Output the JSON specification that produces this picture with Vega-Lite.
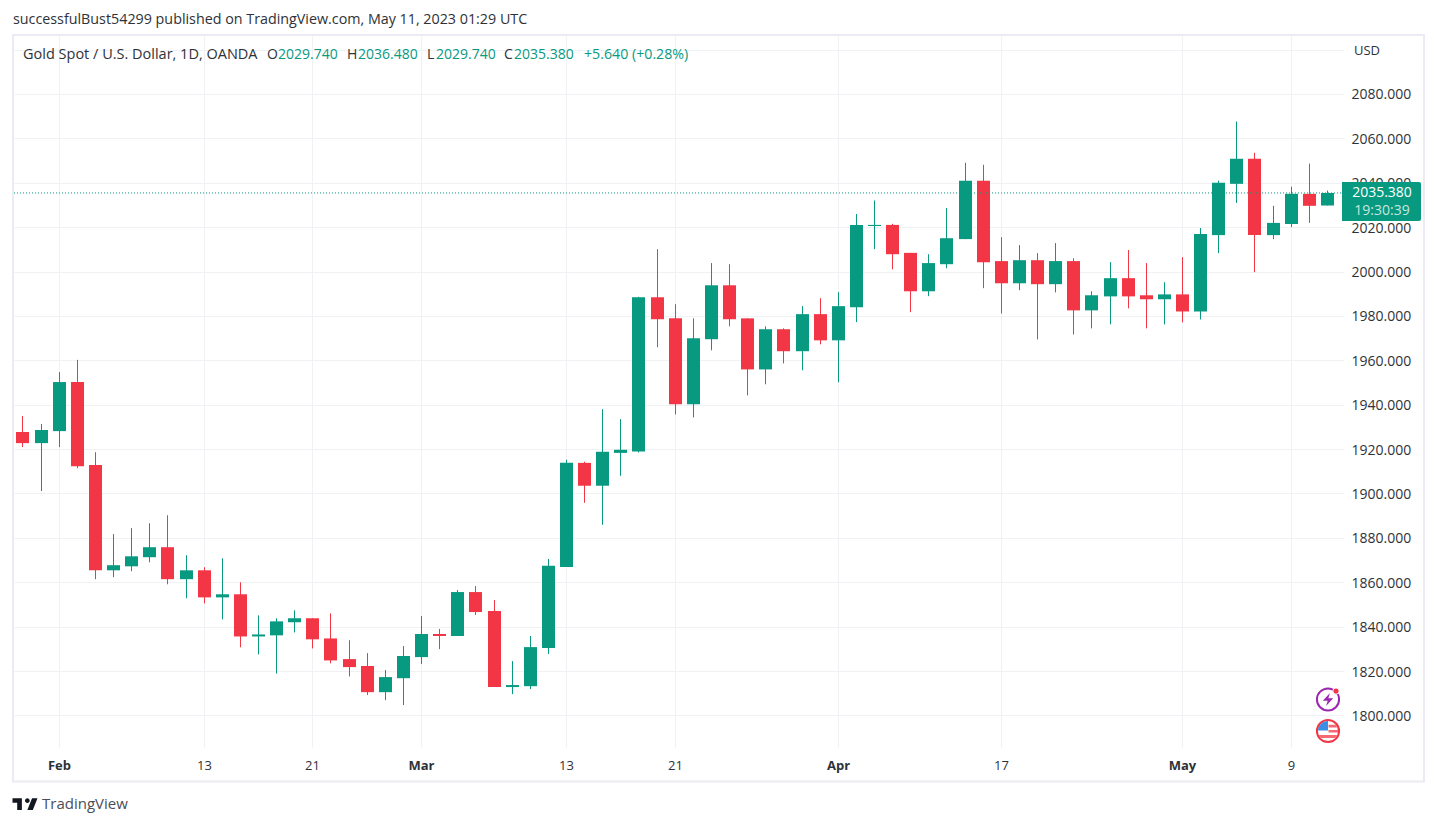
{
  "$schema": "https://vega.github.io/schema/vega-lite/v6.json",
  "description": "Gold Spot / U.S. Dollar daily candlesticks, 30 Jan to 11 May 2023",
  "width": 1330,
  "height": 711,
  "autosize": "none",
  "padding": {"left": 14, "top": 36, "right": 93, "bottom": 79},
  "background": "#ffffff",
  "view": {"stroke": null},
  "config": {"font": "Open Sans", "text": {"font": "Open Sans"}},
  "datasets": {
    "one": [{"n": 1}],
    "ohlc": [
      {"i": 0, "date": "2023-01-30", "open": 1927.7, "high": 1934.9, "low": 1920.9, "close": 1922.7},
      {"i": 1, "date": "2023-01-31", "open": 1922.7, "high": 1931.3, "low": 1901.1, "close": 1928.6},
      {"i": 2, "date": "2023-02-01", "open": 1928.1, "high": 1954.7, "low": 1920.9, "close": 1950.2},
      {"i": 3, "date": "2023-02-02", "open": 1950.2, "high": 1960.2, "low": 1911.4, "close": 1912.3},
      {"i": 4, "date": "2023-02-03", "open": 1912.8, "high": 1918.6, "low": 1861.4, "close": 1865.4},
      {"i": 5, "date": "2023-02-06", "open": 1865.4, "high": 1881.7, "low": 1862.3, "close": 1867.7},
      {"i": 6, "date": "2023-02-07", "open": 1867.2, "high": 1884.4, "low": 1865.0, "close": 1871.7},
      {"i": 7, "date": "2023-02-08", "open": 1871.3, "high": 1886.6, "low": 1869.0, "close": 1875.8},
      {"i": 8, "date": "2023-02-09", "open": 1875.8, "high": 1890.2, "low": 1859.1, "close": 1861.4},
      {"i": 9, "date": "2023-02-10", "open": 1861.4, "high": 1872.2, "low": 1852.8, "close": 1865.4},
      {"i": 10, "date": "2023-02-13", "open": 1865.4, "high": 1866.8, "low": 1850.5, "close": 1853.2},
      {"i": 11, "date": "2023-02-14", "open": 1853.2, "high": 1870.8, "low": 1843.3, "close": 1854.6},
      {"i": 12, "date": "2023-02-15", "open": 1854.6, "high": 1860.0, "low": 1830.7, "close": 1835.6},
      {"i": 13, "date": "2023-02-16", "open": 1835.6, "high": 1845.1, "low": 1827.5, "close": 1836.5},
      {"i": 14, "date": "2023-02-17", "open": 1836.1, "high": 1843.8, "low": 1818.9, "close": 1842.4},
      {"i": 15, "date": "2023-02-20", "open": 1842.0, "high": 1847.4, "low": 1837.4, "close": 1843.8},
      {"i": 16, "date": "2023-02-21", "open": 1843.8, "high": 1843.8, "low": 1830.2, "close": 1834.3},
      {"i": 17, "date": "2023-02-22", "open": 1834.7, "high": 1846.0, "low": 1823.5, "close": 1824.8},
      {"i": 18, "date": "2023-02-23", "open": 1825.4, "high": 1833.9, "low": 1817.6, "close": 1821.8},
      {"i": 19, "date": "2023-02-24", "open": 1822.3, "high": 1828.1, "low": 1809.2, "close": 1810.5},
      {"i": 20, "date": "2023-02-27", "open": 1810.5, "high": 1820.5, "low": 1806.9, "close": 1817.3},
      {"i": 21, "date": "2023-02-28", "open": 1816.8, "high": 1831.3, "low": 1804.7, "close": 1826.8},
      {"i": 22, "date": "2023-03-01", "open": 1826.3, "high": 1844.8, "low": 1823.2, "close": 1836.7},
      {"i": 23, "date": "2023-03-02", "open": 1836.7, "high": 1839.0, "low": 1829.9, "close": 1835.8},
      {"i": 24, "date": "2023-03-03", "open": 1835.8, "high": 1856.5, "low": 1835.8, "close": 1855.6},
      {"i": 25, "date": "2023-03-06", "open": 1855.6, "high": 1858.3, "low": 1845.3, "close": 1846.6},
      {"i": 26, "date": "2023-03-07", "open": 1847.1, "high": 1852.0, "low": 1812.8, "close": 1812.8},
      {"i": 27, "date": "2023-03-08", "open": 1812.8, "high": 1824.5, "low": 1809.6, "close": 1813.7},
      {"i": 28, "date": "2023-03-09", "open": 1813.2, "high": 1835.8, "low": 1811.9, "close": 1830.8},
      {"i": 29, "date": "2023-03-10", "open": 1830.4, "high": 1870.5, "low": 1827.7, "close": 1867.4},
      {"i": 30, "date": "2023-03-13", "open": 1866.9, "high": 1915.2, "low": 1866.9, "close": 1913.8},
      {"i": 31, "date": "2023-03-14", "open": 1913.8, "high": 1914.3, "low": 1895.8, "close": 1903.5},
      {"i": 32, "date": "2023-03-15", "open": 1903.5, "high": 1938.0, "low": 1885.9, "close": 1918.8},
      {"i": 33, "date": "2023-03-16", "open": 1918.3, "high": 1933.5, "low": 1908.0, "close": 1919.7},
      {"i": 34, "date": "2023-03-17", "open": 1918.9, "high": 1988.6, "low": 1918.5, "close": 1988.4},
      {"i": 35, "date": "2023-03-20", "open": 1988.4, "high": 2010.1, "low": 1965.9, "close": 1978.5},
      {"i": 36, "date": "2023-03-21", "open": 1978.9, "high": 1985.3, "low": 1935.6, "close": 1940.2},
      {"i": 37, "date": "2023-03-22", "open": 1940.2, "high": 1978.9, "low": 1934.3, "close": 1969.9},
      {"i": 38, "date": "2023-03-23", "open": 1969.5, "high": 2003.8, "low": 1964.5, "close": 1993.8},
      {"i": 39, "date": "2023-03-24", "open": 1993.8, "high": 2003.3, "low": 1975.3, "close": 1978.5},
      {"i": 40, "date": "2023-03-27", "open": 1978.9, "high": 1978.9, "low": 1944.2, "close": 1955.9},
      {"i": 41, "date": "2023-03-28", "open": 1955.9, "high": 1975.3, "low": 1949.2, "close": 1974.0},
      {"i": 42, "date": "2023-03-29", "open": 1974.0, "high": 1974.4, "low": 1958.6, "close": 1964.1},
      {"i": 43, "date": "2023-03-30", "open": 1964.1, "high": 1984.4, "low": 1955.5, "close": 1980.8},
      {"i": 44, "date": "2023-03-31", "open": 1980.8, "high": 1988.0, "low": 1967.2, "close": 1969.0},
      {"i": 45, "date": "2023-04-03", "open": 1969.0, "high": 1990.7, "low": 1950.1, "close": 1984.4},
      {"i": 46, "date": "2023-04-04", "open": 1983.9, "high": 2025.9, "low": 1977.2, "close": 2021.0},
      {"i": 47, "date": "2023-04-05", "open": 2020.5, "high": 2032.0, "low": 2010.1, "close": 2021.0},
      {"i": 48, "date": "2023-04-06", "open": 2021.0, "high": 2021.5, "low": 2001.0, "close": 2007.8},
      {"i": 49, "date": "2023-04-10", "open": 2008.4, "high": 2008.4, "low": 1981.7, "close": 1991.1},
      {"i": 50, "date": "2023-04-11", "open": 1991.1, "high": 2007.8, "low": 1988.9, "close": 2003.8},
      {"i": 51, "date": "2023-04-12", "open": 2003.3, "high": 2028.6, "low": 2001.5, "close": 2015.0},
      {"i": 52, "date": "2023-04-13", "open": 2014.6, "high": 2049.0, "low": 2014.6, "close": 2040.9},
      {"i": 53, "date": "2023-04-14", "open": 2040.9, "high": 2048.1, "low": 1992.5, "close": 2004.2},
      {"i": 54, "date": "2023-04-17", "open": 2004.7, "high": 2015.5, "low": 1981.1, "close": 1994.7},
      {"i": 55, "date": "2023-04-18", "open": 1994.7, "high": 2011.9, "low": 1991.6, "close": 2005.1},
      {"i": 56, "date": "2023-04-19", "open": 2005.1, "high": 2008.3, "low": 1969.4, "close": 1994.3},
      {"i": 57, "date": "2023-04-20", "open": 1994.3, "high": 2012.8, "low": 1990.6, "close": 2004.7},
      {"i": 58, "date": "2023-04-21", "open": 2004.7, "high": 2006.0, "low": 1971.6, "close": 1982.5},
      {"i": 59, "date": "2023-04-24", "open": 1982.5, "high": 1991.1, "low": 1974.4, "close": 1989.3},
      {"i": 60, "date": "2023-04-25", "open": 1988.8, "high": 2004.2, "low": 1976.2, "close": 1997.0},
      {"i": 61, "date": "2023-04-26", "open": 1997.0, "high": 2009.7, "low": 1983.4, "close": 1988.8},
      {"i": 62, "date": "2023-04-27", "open": 1989.3, "high": 2003.8, "low": 1974.4, "close": 1987.5},
      {"i": 63, "date": "2023-04-28", "open": 1987.5, "high": 1995.2, "low": 1976.2, "close": 1989.7},
      {"i": 64, "date": "2023-05-01", "open": 1989.7, "high": 2006.5, "low": 1977.1, "close": 1982.0},
      {"i": 65, "date": "2023-05-02", "open": 1982.0, "high": 2019.6, "low": 1978.4, "close": 2016.9},
      {"i": 66, "date": "2023-05-03", "open": 2016.4, "high": 2040.9, "low": 2008.3, "close": 2040.0},
      {"i": 67, "date": "2023-05-04", "open": 2039.5, "high": 2067.6, "low": 2030.9, "close": 2050.8},
      {"i": 68, "date": "2023-05-05", "open": 2050.8, "high": 2053.5, "low": 1999.7, "close": 2016.4},
      {"i": 69, "date": "2023-05-08", "open": 2016.4, "high": 2029.6, "low": 2014.6, "close": 2021.9},
      {"i": 70, "date": "2023-05-09", "open": 2021.4, "high": 2038.2, "low": 2020.0, "close": 2035.0},
      {"i": 71, "date": "2023-05-10", "open": 2035.0, "high": 2048.6, "low": 2021.9, "close": 2029.6},
      {"i": 72, "date": "2023-05-11", "open": 2029.74, "high": 2036.48, "low": 2029.74, "close": 2035.38}
    ]
  },
  "layer": [
    {
      "data": {"name": "ohlc"},
      "mark": {"type": "rule", "strokeWidth": 1, "xOffset": 0.5},
      "encoding": {
        "x": {
          "field": "i",
          "type": "quantitative",
          "scale": {"domain": [-0.469, 72.94], "nice": false, "zero": false, "round": true, "padding": 0},
          "axis": {
            "title": null,
            "values": [2, 10, 16, 22, 30, 36, 45, 54, 64, 70],
            "labelExpr": "['Feb','13','21','Mar','13','21','Apr','17','May','9'][indexof([2,10,16,22,30,36,45,54,64,70],datum.value)]",
            "labelFontWeight": {"condition": {"test": "indexof([2,22,45,64],datum.value) >= 0", "value": "bold"}, "value": "normal"},
            "labelColor": "#2e3238",
            "labelFontSize": 13,
            "labelPadding": 12,
            "labelFlush": false,
            "labelOverlap": false,
            "domain": false,
            "ticks": false,
            "grid": true,
            "gridColor": "#f0f1f5",
            "gridWidth": 1
          }
        },
        "y": {
          "field": "low",
          "type": "quantitative",
          "scale": {"domain": [1785.8, 2106.1], "nice": false, "zero": false},
          "axis": {
            "title": null,
            "orient": "right",
            "values": [1800, 1820, 1840, 1860, 1880, 1900, 1920, 1940, 1960, 1980, 2000, 2020, 2040, 2060, 2080, 2100],
            "labelExpr": "datum.value == 2100 ? '' : format(datum.value, '.3f')",
            "labelColor": "#2e3238",
            "labelFontSize": 14,
            "labelPadding": 7,
            "labelOffset": 1,
            "labelOverlap": false,
            "domain": false,
            "ticks": false,
            "grid": true,
            "gridColor": "#f0f1f5",
            "gridWidth": 1
          }
        },
        "y2": {"field": "high"},
        "color": {"condition": {"test": "datum.close >= datum.open", "value": "#089981"}, "value": "#F23645"}
      }
    },
    {
      "data": {"name": "ohlc"},
      "mark": {"type": "bar", "orient": "vertical", "size": 13, "xOffset": 0.5},
      "encoding": {
        "x": {"field": "i", "type": "quantitative"},
        "y": {"field": "open", "type": "quantitative"},
        "y2": {"field": "close"},
        "color": {"condition": {"test": "datum.close >= datum.open", "value": "#089981"}, "value": "#F23645"}
      }
    },
    {
      "data": {"name": "one"},
      "mark": {"type": "rule", "stroke": "#089981", "strokeWidth": 1, "strokeDash": [1, 2]},
      "encoding": {"x": {"datum": -0.469}, "x2": {"datum": 72.94}, "y": {"datum": 2035.38}}
    },
    {
      "data": {"name": "one"},
      "mark": {"type": "rect", "fill": null, "stroke": "#ebecf3", "strokeWidth": 2},
      "encoding": {"x": {"datum": -0.524}, "x2": {"datum": 77.35}, "y": {"datum": 2106.5}, "y2": {"datum": 1770.3}}
    },
    {
      "data": {"name": "one"},
      "mark": {"type": "rect", "fill": "#089981", "cornerRadiusTopRight": 2, "cornerRadiusBottomRight": 2},
      "encoding": {"x": {"datum": 72.83}, "x2": {"datum": 77.19}, "y": {"datum": 2040.3}, "y2": {"datum": 2022.8}}
    },
    {
      "data": {"name": "one"},
      "mark": {"type": "text", "text": "2035.380", "fill": "#ffffff", "fontSize": 14},
      "encoding": {"x": {"datum": 75.06}, "y": {"datum": 2035.2}}
    },
    {
      "data": {"name": "one"},
      "mark": {"type": "text", "text": "19:30:39", "fill": "#c4e6de", "fontSize": 14},
      "encoding": {"x": {"datum": 75.06}, "y": {"datum": 2027.1}}
    },
    {
      "data": {"name": "one"},
      "mark": {"type": "text", "text": "USD", "align": "left", "fill": "#2e3238", "fontSize": 13},
      "encoding": {"x": {"datum": 73.49}, "y": {"datum": 2099.5}}
    },
    {
      "data": {"name": "one"},
      "mark": {"type": "text", "text": "successfulBust54299 published on TradingView.com, May 11, 2023 01:29 UTC", "align": "left", "fill": "#2e3238", "fontSize": 14.3},
      "encoding": {"x": {"datum": -0.524}, "y": {"datum": 2113.4}}
    },
    {
      "data": {"name": "one"},
      "mark": {"type": "text", "text": "Gold Spot / U.S. Dollar, 1D, OANDA", "align": "left", "fill": "#2e3238", "fontSize": 14.5},
      "encoding": {"x": {"datum": 0.028}, "y": {"datum": 2097.6}}
    },
    {
      "data": {"name": "one"},
      "mark": {"type": "text", "text": "O", "align": "left", "fill": "#2e3238", "fontSize": 14},
      "encoding": {"x": {"datum": 13.52}, "y": {"datum": 2097.6}}
    },
    {
      "data": {"name": "one"},
      "mark": {"type": "text", "text": "2029.740", "align": "left", "fill": "#089981", "fontSize": 14},
      "encoding": {"x": {"datum": 14.1}, "y": {"datum": 2097.6}}
    },
    {
      "data": {"name": "one"},
      "mark": {"type": "text", "text": "H", "align": "left", "fill": "#2e3238", "fontSize": 14},
      "encoding": {"x": {"datum": 17.91}, "y": {"datum": 2097.6}}
    },
    {
      "data": {"name": "one"},
      "mark": {"type": "text", "text": "2036.480", "align": "left", "fill": "#089981", "fontSize": 14},
      "encoding": {"x": {"datum": 18.52}, "y": {"datum": 2097.6}}
    },
    {
      "data": {"name": "one"},
      "mark": {"type": "text", "text": "L", "align": "left", "fill": "#2e3238", "fontSize": 14},
      "encoding": {"x": {"datum": 22.33}, "y": {"datum": 2097.6}}
    },
    {
      "data": {"name": "one"},
      "mark": {"type": "text", "text": "2029.740", "align": "left", "fill": "#089981", "fontSize": 14},
      "encoding": {"x": {"datum": 22.82}, "y": {"datum": 2097.6}}
    },
    {
      "data": {"name": "one"},
      "mark": {"type": "text", "text": "C", "align": "left", "fill": "#2e3238", "fontSize": 14},
      "encoding": {"x": {"datum": 26.58}, "y": {"datum": 2097.6}}
    },
    {
      "data": {"name": "one"},
      "mark": {"type": "text", "text": "2035.380", "align": "left", "fill": "#089981", "fontSize": 14},
      "encoding": {"x": {"datum": 27.13}, "y": {"datum": 2097.6}}
    },
    {
      "data": {"name": "one"},
      "mark": {"type": "text", "text": "+5.640 (+0.28%)", "align": "left", "fill": "#089981", "fontSize": 14.2},
      "encoding": {"x": {"datum": 30.99}, "y": {"datum": 2097.6}}
    },
    {
      "data": {"name": "one"},
      "mark": {"type": "point", "shape": "M-1,-0.469L-0.25,-0.469L-0.25,0.469L-0.625,0.469L-0.625,-0.094L-1,-0.094ZM0.625,0.469L0.1875,0.469L0.5625,-0.469L1,-0.469ZM0.375,-0.281A0.1875,0.1875 0 1 1 0,-0.281A0.1875,0.1875 0 1 1 0.375,-0.281Z", "filled": true, "fill": "#131722", "size": 625, "opacity": 1},
      "encoding": {"x": {"datum": 0.149}, "y": {"datum": 1760.1}}
    },
    {
      "data": {"name": "one"},
      "mark": {"type": "text", "text": "TradingView", "align": "left", "fill": "#4a4e59", "fontSize": 15},
      "encoding": {"x": {"datum": 1.076}, "y": {"datum": 1760.1}}
    },
    {
      "data": {"name": "one"},
      "mark": {"type": "point", "shape": "circle", "filled": false, "stroke": "#9c27b0", "strokeWidth": 2, "size": 491, "opacity": 1},
      "encoding": {"x": {"datum": 72.03}, "y": {"datum": 1807.2}}
    },
    {
      "data": {"name": "one"},
      "mark": {"type": "point", "shape": "M0.3,-1L-0.8,0.2L-0.05,0.2L-0.3,1L0.8,-0.2L0.05,-0.2Z", "filled": true, "fill": "#9c27b0", "size": 169, "opacity": 1},
      "encoding": {"x": {"datum": 72.03}, "y": {"datum": 1807.2}}
    },
    {
      "data": {"name": "one"},
      "mark": {"type": "point", "shape": "circle", "filled": true, "fill": "#F23645", "stroke": "#ffffff", "strokeWidth": 1, "size": 40, "opacity": 1},
      "encoding": {"x": {"datum": 72.5}, "y": {"datum": 1811}}
    },
    {
      "data": {"name": "one"},
      "mark": {"type": "point", "shape": "circle", "filled": false, "stroke": "#F23645", "strokeWidth": 2, "size": 491, "opacity": 1},
      "encoding": {"x": {"datum": 72.03}, "y": {"datum": 1793}}
    },
    {
      "data": {"name": "one"},
      "mark": {"type": "point", "shape": "M0.05,-0.62L0.79,-0.62L0.92,-0.35L0.05,-0.35ZM0.05,-0.1L1,-0.1L1,0.15L0.05,0.15ZM-0.92,0.4L0.92,0.4L0.71,0.7L-0.71,0.7Z", "filled": true, "fill": "#F23645", "size": 400, "opacity": 0.75},
      "encoding": {"x": {"datum": 72.03}, "y": {"datum": 1793}}
    },
    {
      "data": {"name": "one"},
      "mark": {"type": "point", "shape": "M-1,-0.05L0,-0.05L0,-1A1,1 0 0 0 -1,-0.05Z", "filled": true, "fill": "#3a8ee6", "size": 400, "opacity": 1},
      "encoding": {"x": {"datum": 72.03}, "y": {"datum": 1793}}
    }
  ]
}
